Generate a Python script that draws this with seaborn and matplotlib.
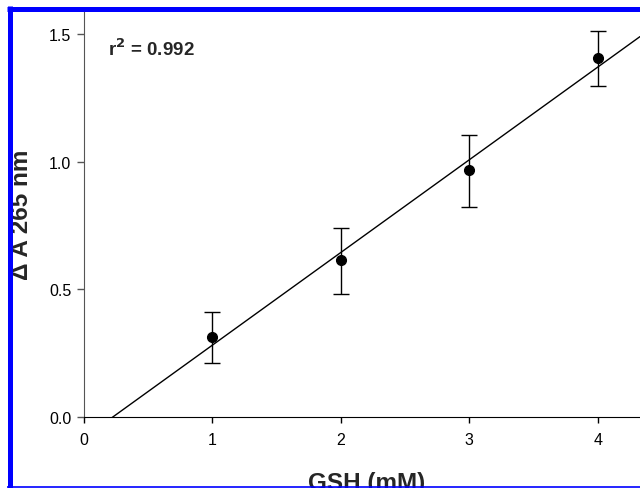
import numpy as np
import pandas as pd
import matplotlib
matplotlib.use("Agg")
import matplotlib.pyplot as plt
import seaborn as sns
from matplotlib.lines import Line2D

# GSH concentration vs absorbance change
gsh_mM = [1, 2, 3, 4]
delta_a265 = [0.315, 0.616, 0.967, 1.409]
err_low = [0.105, 0.134, 0.142, 0.112]
err_high = [0.095, 0.126, 0.140, 0.105]
r2_text = "r$^\\mathbf{2}$ = 0.992"
x_ticks = [0, 1, 2, 3, 4]
y_ticks = [0.0, 0.5, 1.0, 1.5]

df = pd.DataFrame({"GSH": gsh_mM, "dA": delta_a265})

sns.set_style("ticks")
plt.rcParams['font.family'] = ['Liberation Sans', 'DejaVu Sans']

fig = plt.figure(figsize=(6.4, 4.89), dpi=100)
ax = fig.add_axes([84 / 640, 71 / 489, 556 / 640, 406 / 489])
ax.set_xlim(0, 4.33)
ax.set_ylim(0, 1.592)

# fitted line through the means
sns.regplot(data=df, x="GSH", y="dA", ax=ax, scatter=False, ci=None,
            truncate=False, color="black", line_kws={"linewidth": 1.0})

ax.errorbar(gsh_mM, delta_a265, yerr=[err_low, err_high], fmt="o",
            color="black", markersize=7, capsize=6, elinewidth=1.0,
            capthick=1.0, zorder=3)

ax.set_xticks(x_ticks)
ax.set_yticks(y_ticks)
ax.set_yticklabels([f"{v:.1f}" for v in y_ticks])
ax.tick_params(axis="x", length=4, width=1, colors="black", labelsize=11.5, pad=7)
ax.tick_params(axis="y", length=5, width=1, color="#555555", labelcolor="black",
               labelsize=11.5, pad=4)
for s in ["top", "right"]:
    ax.spines[s].set_visible(False)
ax.spines["left"].set_color("#555555")
ax.spines["bottom"].set_color("black")
ax.set_xlabel("")
ax.set_ylabel("")

ax.text(0.187, 1.447, r2_text, fontsize=13.5, fontweight="bold", va="center")

fig.text(22 / 640, 1 - 215 / 489, "\u0394 A 265 nm", rotation=90, fontsize=17.5,
         fontweight="bold", ha="center", va="center")
fig.text(367 / 640, 1 - 490 / 489, "GSH (mM)", fontsize=17.5, fontweight="bold",
         ha="center", va="baseline")

# blue frame around the panel
blue = "#0000ff"
fig.add_artist(Line2D([9.5 / 640, 9.5 / 640], [0, 1 - 7 / 489], color=blue,
                      linewidth=3.6, transform=fig.transFigure, zorder=10,
                      solid_capstyle="butt"))
fig.add_artist(Line2D([7 / 640, 1], [1 - 9.5 / 489, 1 - 9.5 / 489], color=blue,
                      linewidth=3.6, transform=fig.transFigure, zorder=10,
                      solid_capstyle="butt"))
fig.add_artist(Line2D([7 / 640, 1], [1 - 487.5 / 489, 1 - 487.5 / 489],
                      color=blue, linewidth=1.2, transform=fig.transFigure,
                      zorder=10, solid_capstyle="butt"))

fig.savefig("out.png", dpi=100)
